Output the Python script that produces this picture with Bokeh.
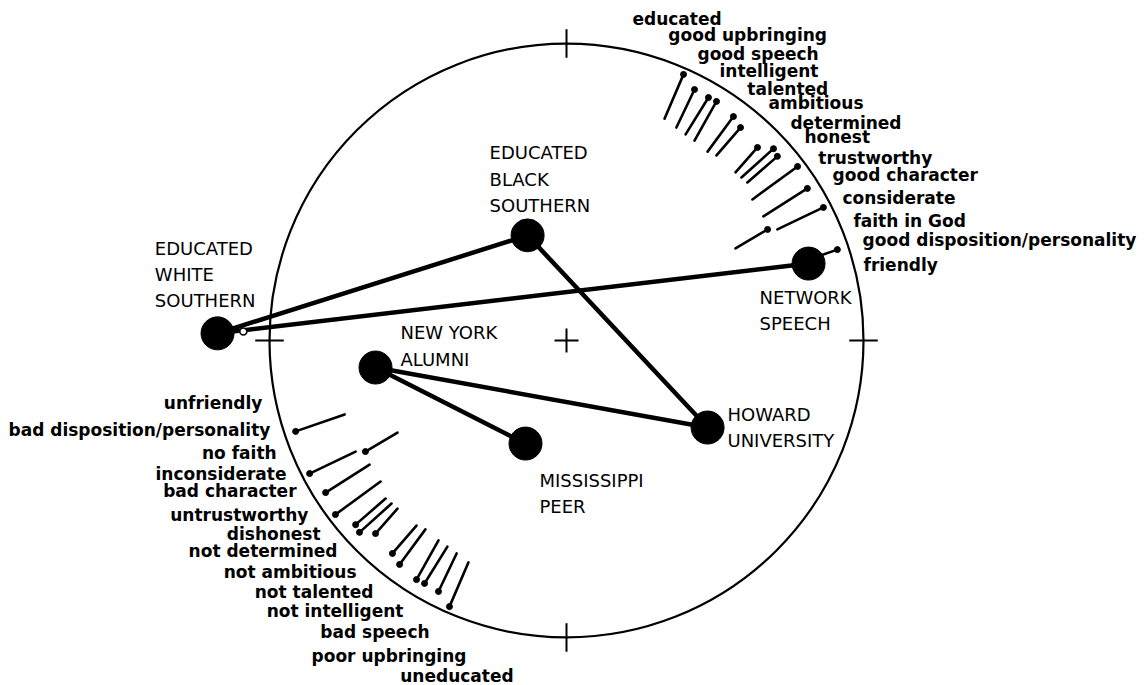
from bokeh.plotting import figure
from bokeh.models import Range1d
from bokeh.embed import file_html
from bokeh.resources import INLINE
from bokeh.core.properties import value

# ---------------- data (unit-circle coordinates) ----------------
groups = ["EDUCATED\nWHITE\nSOUTHERN", "EDUCATED\nBLACK\nSOUTHERN", "NETWORK\nSPEECH",
          "NEW YORK\nALUMNI", "MISSISSIPPI\nPEER", "HOWARD\nUNIVERSITY"]
group_x = [-1.175, -0.131, 0.815, -0.643, -0.138, 0.475]
group_y = [0.024, 0.354, 0.259, -0.091, -0.347, -0.293]
# label anchors (left edge, first line centre)
group_lx = [-1.386, -0.259, 0.650, -0.559, -0.091, 0.542]
group_ly = [0.313, 0.633, 0.145, 0.027, -0.471, -0.246]

# links between groups (indices)
link_a = [0, 0, 1, 3, 3]
link_b = [1, 2, 5, 5, 4]

pos_attrs = ["educated", "good upbringing", "good speech", "intelligent", "talented",
             "ambitious", "determined", "honest", "trustworthy", "good character",
             "considerate", "faith in God", "good disposition/personality", "friendly"]
neg_attrs = ["uneducated", "poor upbringing", "bad speech", "not intelligent", "not talented",
             "not ambitious", "not determined", "dishonest", "untrustworthy", "bad character",
             "inconsiderate", "no faith", "bad disposition/personality", "unfriendly"]
# attribute vectors: outer (tip) and inner ends
vec_tip_x = [0.394, 0.431, 0.478, 0.505, 0.562, 0.586, 0.643, 0.697, 0.710, 0.778, 0.811, 0.865, 0.677, 0.912]
vec_tip_y = [0.896, 0.845, 0.818, 0.805, 0.754, 0.717, 0.650, 0.646, 0.620, 0.586, 0.512, 0.448, 0.374, 0.306]
vec_base_x = [0.330, 0.370, 0.401, 0.431, 0.475, 0.505, 0.569, 0.589, 0.609, 0.626, 0.663, 0.710, 0.569, 0.747]
vec_base_y = [0.747, 0.717, 0.694, 0.673, 0.636, 0.623, 0.566, 0.549, 0.532, 0.475, 0.418, 0.374, 0.310, 0.249]

# attribute label anchors
pos_lx = [0.222, 0.343, 0.441, 0.515, 0.609, 0.680, 0.754, 0.801, 0.848, 0.896, 0.929, 0.966, 0.997, 1.000]
pos_ly = [1.084, 1.027, 0.966, 0.909, 0.848, 0.798, 0.734, 0.684, 0.616, 0.556, 0.481, 0.404, 0.337, 0.253]
neg_lx = [-0.178, -0.337, -0.461, -0.549, -0.650, -0.707, -0.771, -0.828, -0.869, -0.909, -0.943, -0.976, -0.997, -1.024]
neg_ly = [-1.131, -1.061, -0.983, -0.912, -0.848, -0.778, -0.710, -0.653, -0.586, -0.508, -0.448, -0.380, -0.303, -0.212]

# ---------------- layout ----------------
W, H = 1145, 685
CX, CY, R = 566, 340, 297   # circle centre / radius in frame pixels
x0 = -CX / R
x1 = (W - CX) / R
y1 = CY / R
y0 = -(H - CY) / R

p = figure(width=W, height=H, output_backend="svg", toolbar_location=None,
           x_range=Range1d(x0, x1), y_range=Range1d(y0, y1),
           min_border=0, outline_line_color=None)
p.axis.visible = False
p.grid.visible = False
p.background_fill_color = "white"

INK = "black"

# frame circle
p.circle(x=[0], y=[0], radius=1, fill_color=None, line_color=INK, line_width=2.2)
# axis ticks on the circle and centre cross
t = 0.048
p.segment(x0=[0, 0, -1 - t, 1 - t], y0=[1 - t, -1 - t, 0, 0],
          x1=[0, 0, -1 + t, 1 + t], y1=[1 + t, -1 + t, 0, 0],
          line_color=INK, line_width=2)
p.scatter(x=[0], y=[0], marker="cross", size=24, line_color=INK, line_width=2)

# attribute vectors (positive and mirrored negative)
neg_tip_x = [-v for v in vec_tip_x]
neg_tip_y = [-v for v in vec_tip_y]
neg_base_x = [-v for v in vec_base_x]
neg_base_y = [-v for v in vec_base_y]
p.segment(x0=vec_base_x + neg_base_x, y0=vec_base_y + neg_base_y,
          x1=vec_tip_x + neg_tip_x, y1=vec_tip_y + neg_tip_y,
          line_color=INK, line_width=2.6, line_cap="round")
p.scatter(x=vec_tip_x + neg_tip_x, y=vec_tip_y + neg_tip_y, size=6,
          fill_color=INK, line_color=INK)

# links between groups
p.segment(x0=[group_x[i] for i in link_a], y0=[group_y[i] for i in link_a],
          x1=[group_x[i] for i in link_b], y1=[group_y[i] for i in link_b],
          line_color=INK, line_width=4.5, line_cap="round")
# group points
p.scatter(x=group_x, y=group_y, size=33, fill_color=INK, line_color=INK)
p.scatter(x=[group_x[0] + 0.087], y=[group_y[0] + 0.006], size=7,
          fill_color="white", line_color=INK, line_width=1.5)

# attribute labels
p.text(x=pos_lx, y=pos_ly, text=pos_attrs, text_align="left", text_baseline="middle",
       text_font=value("DejaVu Sans"), text_font_style="bold", text_font_size="17px",
       text_color=INK)
p.text(x=neg_lx, y=neg_ly, text=neg_attrs, text_align="right", text_baseline="middle",
       text_font=value("DejaVu Sans"), text_font_style="bold", text_font_size="17px",
       text_color=INK)

# group labels (anchor at first-line centre -> shift to top of block)
p.text(x=group_lx, y=group_ly, text=groups, text_align="left", text_baseline="top",
       y_offset=-10, text_font=value("DejaVu Sans"), text_font_size="18px",
       text_line_height=1.24, text_color=INK)

open("out.html", "w").write(file_html(p, INLINE))
